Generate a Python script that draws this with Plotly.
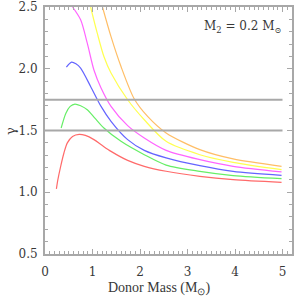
import plotly.graph_objects as go

# ---- data ----
red_x = [0.24, 0.27, 0.33, 0.40, 0.47, 0.58, 0.72, 0.85, 1.03, 1.20, 1.39, 1.74, 2.09, 2.55, 3.26, 3.96, 4.98]
red_y = [1.027, 1.10, 1.21, 1.32, 1.40, 1.452, 1.469, 1.46, 1.426, 1.38, 1.331, 1.258, 1.21, 1.17, 1.129, 1.102, 1.08]

green_x = [0.34, 0.44, 0.53, 0.63, 0.75, 0.89, 1.05, 1.24, 1.60, 2.09, 2.55, 3.26, 3.96, 4.98]
green_y = [1.52, 1.64, 1.695, 1.714, 1.70, 1.668, 1.60, 1.52, 1.412, 1.304, 1.22, 1.169, 1.135, 1.11]

blue_x = [0.45, 0.56, 0.65, 0.75, 0.96, 1.18, 1.39, 1.74, 2.09, 2.55, 3.26, 3.96, 4.98]
blue_y = [2.013, 2.054, 2.04, 2.005, 1.857, 1.695, 1.574, 1.426, 1.339, 1.278, 1.215, 1.169, 1.137]

magenta_x = [0.58, 0.75, 0.89, 1.03, 1.18, 1.39, 1.74, 2.09, 2.55, 3.26, 3.96, 4.98]
magenta_y = [2.50, 2.396, 2.207, 1.99, 1.844, 1.695, 1.539, 1.439, 1.339, 1.264, 1.21, 1.165]

yellow_x = [0.96, 1.10, 1.24, 1.39, 1.74, 2.09, 2.55, 3.26, 3.96, 4.98]
yellow_y = [2.50, 2.288, 2.099, 1.965, 1.749, 1.587, 1.412, 1.304, 1.242, 1.183]

orange_x = [1.21, 1.39, 1.60, 1.88, 2.16, 2.55, 3.26, 3.96, 4.98]
orange_y = [2.50, 2.26, 2.018, 1.755, 1.614, 1.48, 1.345, 1.27, 1.21]

hline_values = [1.5, 1.75]
hline_x = [0.0, 5.0]

x_ticks = [0, 1, 2, 3, 4, 5]
y_ticks = [0.5, 1.0, 1.5, 2.0, 2.5]
y_tick_labels = ["0.5", "1.0", "1.5", "2.0", "2.5"]

curves = [
    (red_x, red_y, "#ff6a6a"),
    (green_x, green_y, "#66ee66"),
    (blue_x, blue_y, "#6464ff"),
    (magenta_x, magenta_y, "#ff64ff"),
    (yellow_x, yellow_y, "#ffff50"),
    (orange_x, orange_y, "#ffbe66"),
]

fig = go.Figure()
for xs, ys, col in curves:
    fig.add_trace(go.Scatter(x=xs, y=ys, mode="lines",
                             line=dict(color=col, width=1.2, shape="spline", smoothing=0.8),
                             showlegend=False, hoverinfo="skip"))
for hv in hline_values:
    fig.add_trace(go.Scatter(x=hline_x, y=[hv, hv], mode="lines",
                             line=dict(color="#a8a8a8", width=2),
                             showlegend=False, hoverinfo="skip"))

axis_col = "#a8a8a8"
font_fam = "DejaVu Serif"
title_fam = "Liberation Serif"
txt_col = "#383838"
fig.update_layout(
    width=300, height=300,
    margin=dict(l=45, r=8, t=7, b=46, autoexpand=False),
    paper_bgcolor="white", plot_bgcolor="white",
    font=dict(family=font_fam, size=12, color=txt_col),
    xaxis=dict(range=[0, 5.2], tickvals=x_ticks, ticks="inside", ticklen=5, tickwidth=1,
               tickcolor=axis_col, showline=True, linewidth=2, linecolor=axis_col,
               mirror="ticks", showgrid=False, zeroline=False, ticklabelstandoff=6,
               automargin=False,
               minor=dict(dtick=0.1, ticks="inside", ticklen=3, tickcolor=axis_col, showgrid=False),
               tickfont=dict(family=font_fam, size=12, color=txt_col)),
    yaxis=dict(range=[0.5, 2.5], tickvals=y_ticks, ticktext=y_tick_labels, ticks="inside",
               ticklen=5, tickwidth=1, tickcolor=axis_col, showline=True, linewidth=2,
               linecolor=axis_col, mirror="ticks", showgrid=False, zeroline=False,
               ticklabelstandoff=3, automargin=False,
               minor=dict(dtick=0.1, ticks="inside", ticklen=3, tickcolor=axis_col, showgrid=False),
               tickfont=dict(family=font_fam, size=12, color=txt_col)),
)

fig.add_annotation(text="M<sub>2</sub> = 0.2 M<sub>⊙</sub>", xref="paper", yref="paper",
                   x=0.968, y=0.92, xanchor="right", yanchor="middle", showarrow=False,
                   font=dict(family=font_fam, size=12, color=txt_col))
fig.add_annotation(text="Donor Mass (M<sub>⊙</sub>)", xref="paper", yref="paper",
                   x=(159 - 45) / 247, y=-(288 - 254) / 247, xanchor="center", yanchor="middle",
                   showarrow=False, font=dict(family=title_fam, size=14, color=txt_col))
fig.add_annotation(text="γ", xref="paper", yref="paper",
                   x=-(45 - 10) / 247, y=(254 - 131) / 247, xanchor="center", yanchor="middle",
                   textangle=-90, showarrow=False, font=dict(family=font_fam, size=13, color=txt_col))

fig.write_html("out.html", config={"displayModeBar": False},
               post_script="document.body.style.margin='0';document.body.style.overflow='hidden';")
